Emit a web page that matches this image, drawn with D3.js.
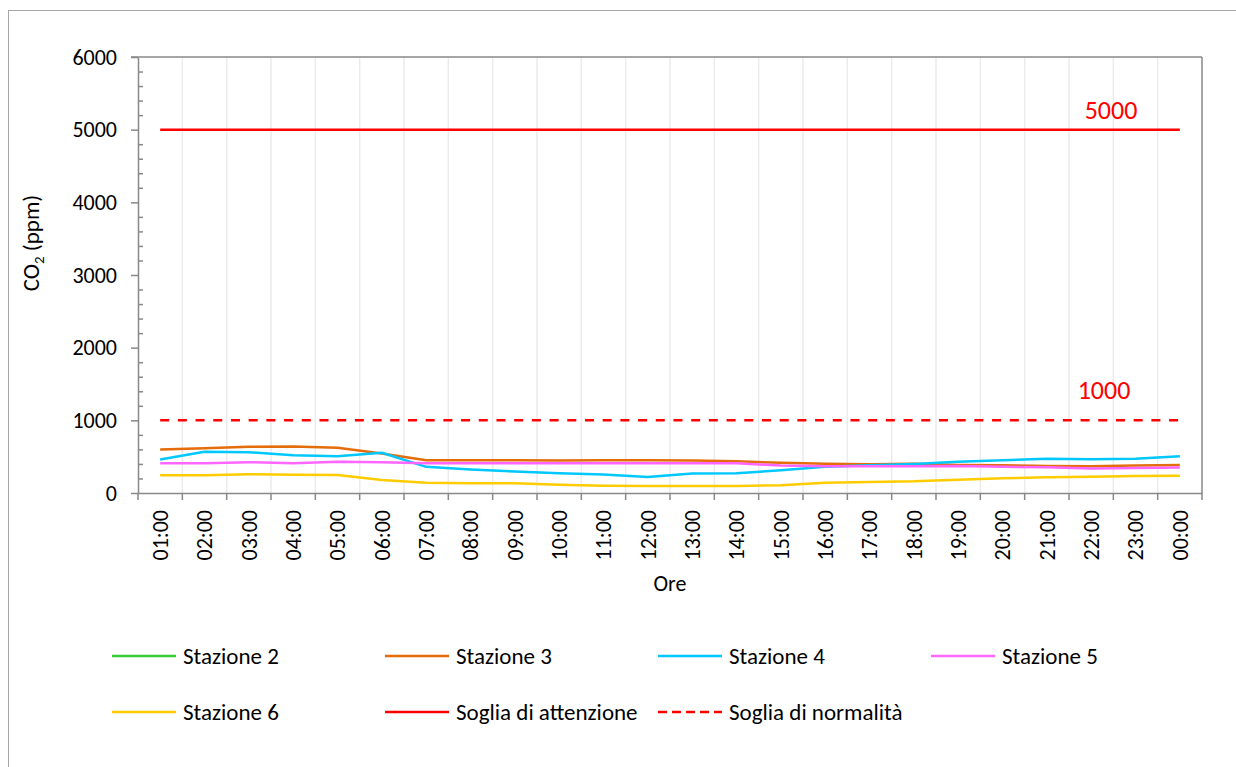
<!DOCTYPE html>
<html><head><meta charset="utf-8">
<script src="https://cdn.jsdelivr.net/npm/d3@7"></script>
<style>
body{margin:0;background:#fff;}
text{font-family:Carlito, Lato, "Liberation Sans", sans-serif;}
</style></head>
<body><svg id="c" width="1236" height="767"></svg>
<script>
const hours = ["01:00","02:00","03:00","04:00","05:00","06:00","07:00","08:00","09:00","10:00","11:00","12:00","13:00","14:00","15:00","16:00","17:00","18:00","19:00","20:00","21:00","22:00","23:00","00:00"];
const yTicks = [0,1000,2000,3000,4000,5000,6000];
const stazione2 = [];
const stazione3 = [599,617,636,640,622,545,450,450,450,448,450,451,447,437,415,401,397,401,387,383,373,368,378,387];
const stazione4 = [461,567,562,520,506,553,360,322,295,272,253,221,267,272,313,360,382,400,429,451,470,465,470,506];
const stazione5 = [410,410,424,410,429,424,410,410,410,410,410,410,410,410,378,368,368,368,373,360,355,336,345,350];
const stazione6 = [244,244,258,251,248,180,142,133,134,115,101,97,97,97,105,142,152,161,184,202,216,225,235,239];
const sogliaAttenzione = 5000;
const sogliaNormalita = 1000;
const seriesNames = ["Stazione 2","Stazione 3","Stazione 4","Stazione 5","Stazione 6","Soglia di attenzione","Soglia di normalità"];
const seriesColors = ["#33cc33","#e46c0a","#00c8ff","#ff66ff","#ffcc00","#ff0000","#ff0000"];

const svg = d3.select("#c");
const L=138, R=1202, T=57, B=493;
const x = d3.scaleBand().domain(hours).range([L,R]).padding(0);
const y = d3.scaleLinear().domain([0,6000]).range([B,T]);
const axisCol = "#898989";

svg.append("rect").attr("x",8.5).attr("y",10.5).attr("width",1300).attr("height",900)
  .attr("fill","none").attr("stroke","#a6a6a6").attr("stroke-width",1);

svg.append("g").selectAll("line").data(hours.slice(1)).join("line")
  .attr("x1",d=>x(d)).attr("x2",d=>x(d)).attr("y1",T).attr("y2",B)
  .attr("stroke","#ebebeb").attr("stroke-width",1.5);

svg.append("line").attr("x1",L-7).attr("x2",R).attr("y1",T).attr("y2",T).attr("stroke",axisCol).attr("stroke-width",1.5);
svg.append("line").attr("x1",R).attr("x2",R).attr("y1",T).attr("y2",B+7).attr("stroke",axisCol).attr("stroke-width",1.5);

const ya = svg.append("g").attr("transform",`translate(${L},0)`)
  .call(d3.axisLeft(y).tickValues(yTicks).tickSize(7).tickSizeOuter(0).tickPadding(14).tickFormat(d3.format("d")));
ya.select(".domain").attr("stroke",axisCol).attr("stroke-width",1.5);
ya.selectAll(".tick line").attr("stroke",axisCol).attr("stroke-width",1.5);
ya.selectAll("text").attr("font-size",22).attr("fill","#000");
const minor = d3.range(0,6001,200).filter(v=>v%1000!==0);
svg.append("g").attr("transform",`translate(${L},0)`)
  .call(d3.axisRight(y).tickValues(minor).tickSize(5).tickFormat(""))
  .call(g=>g.select(".domain").remove())
  .selectAll(".tick line").attr("stroke",axisCol).attr("stroke-width",1.5);

const xa = svg.append("g").attr("transform",`translate(0,${B})`)
  .call(d3.axisBottom(x).tickSize(0).tickSizeOuter(0));
xa.select(".domain").attr("stroke",axisCol).attr("stroke-width",1.5);
xa.selectAll("text").attr("font-size",22).attr("fill","#000")
  .attr("transform","rotate(-90)").attr("text-anchor","end")
  .attr("x",-17).attr("y",0).attr("dy","0.35em");
svg.append("g").selectAll("line").data(hours).join("line")
  .attr("x1",d=>x(d)).attr("x2",d=>x(d)).attr("y1",B).attr("y2",B+7)
  .attr("stroke",axisCol).attr("stroke-width",1.5);

svg.append("text").attr("x",(L+R)/2).attr("y",591).attr("text-anchor","middle")
  .attr("font-size",22).text("Ore");
const yt = svg.append("text").attr("transform","translate(39,243) rotate(-90)")
  .attr("text-anchor","middle").attr("font-size",23);
yt.append("tspan").text("CO");
yt.append("tspan").attr("font-size",15).attr("dy",5).text("2");
yt.append("tspan").attr("dy",-5).text(" (ppm)");

const line = d3.line().x((d,i)=>x(hours[i])+x.bandwidth()/2).y(d=>y(d));
const data = [stazione2,stazione3,stazione4,stazione5,stazione6];
data.forEach((s,k)=>{
  if(!s.length) return;
  svg.append("path").attr("d",line(s)).attr("fill","none")
    .attr("stroke",seriesColors[k]).attr("stroke-width",2.5).attr("stroke-linejoin","round");
});
svg.append("path").attr("d",line(hours.map(()=>sogliaAttenzione))).attr("fill","none")
  .attr("stroke",seriesColors[5]).attr("stroke-width",2.5);
svg.append("path").attr("d",line(hours.map(()=>sogliaNormalita))).attr("fill","none")
  .attr("stroke",seriesColors[6]).attr("stroke-width",2.5).attr("stroke-dasharray","9,8.7");

svg.append("text").attr("x",1111).attr("y",y(sogliaAttenzione)-11).attr("text-anchor","middle")
  .attr("font-size",26).attr("fill","#ff0000").text(String(sogliaAttenzione));
svg.append("text").attr("x",1104).attr("y",y(sogliaNormalita)-21).attr("text-anchor","middle")
  .attr("font-size",26).attr("fill","#ff0000").text(String(sogliaNormalita));

const legX = [112,385,658,931];
const legY = [656,712];
seriesNames.forEach((n,i)=>{
  const lx = legX[i%4], ly = legY[Math.floor(i/4)];
  const g = svg.append("g");
  g.append("line").attr("x1",lx).attr("x2",lx+64).attr("y1",ly).attr("y2",ly)
    .attr("stroke",seriesColors[i]).attr("stroke-width",2.5)
    .attr("stroke-dasharray", i===6 ? "9,5" : null);
  g.append("text").attr("x",lx+71).attr("y",ly).attr("dy","0.35em").attr("font-size",23).text(n);
});
</script></body></html>
